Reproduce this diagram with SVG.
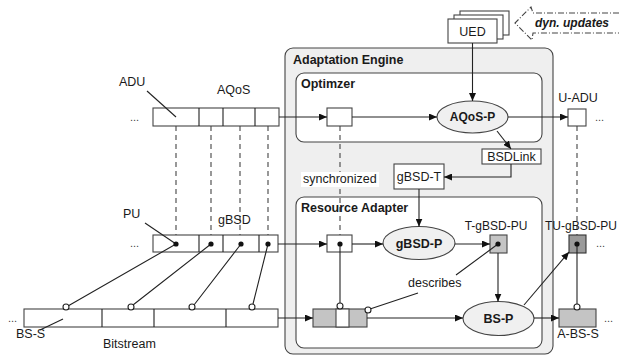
<svg xmlns="http://www.w3.org/2000/svg" width="619" height="356" viewBox="0 0 619 356">
  <style>
    text { font-family: "Liberation Sans", Arial, sans-serif; fill: #1a1a1a; }
    .lbl { font-size: 12.5px; }
    .sm { font-size: 12px; }
    .ttl { font-size: 12.5px; font-weight: bold; }
    .ell { font-size: 12.5px; font-weight: bold; text-anchor: middle; }
    .mid { text-anchor: middle; }
    .dots { font-size: 11px; fill: #444; }
    .box { fill: #fff; stroke: #444; stroke-width: 1.1; }
    .grey { fill: #c4c4c4; stroke: #444; stroke-width: 1.1; }
    .dark { fill: #9a9a9a; stroke: #333; stroke-width: 1.1; }
    .oval { fill: #f0f0f0; stroke: #444; stroke-width: 1.1; }
    .ln { fill: none; stroke: #222; stroke-width: 1.1; }
    .arr { fill: none; stroke: #222; stroke-width: 1.1; marker-end: url(#ah); }
    .dash { fill: none; stroke: #444; stroke-width: 1.1; stroke-dasharray: 5 4; }
    .dot { fill: #111; }
    .ring { fill: #fff; stroke: #222; stroke-width: 1.1; }
  </style>
  <defs>
    <marker id="ah" markerUnits="userSpaceOnUse" markerWidth="8" markerHeight="7" refX="8" refY="3.5" orient="auto">
      <path d="M0,0 L8,3.5 L0,7 z" fill="#111"/>
    </marker>
  </defs>

  <!-- containers -->
  <g id="adaptation-engine">
    <rect x="285" y="48" width="268" height="306" rx="8" fill="#efefef" stroke="#444" stroke-width="1.1"/>
    <text class="ttl" x="293" y="64">Adaptation Engine</text>
  </g>
  <g id="optimizer">
    <rect x="296" y="73" width="246" height="69" rx="8" fill="#fff" stroke="#444" stroke-width="1.1"/>
    <text class="ttl" x="301" y="88">Optimzer</text>
  </g>
  <g id="resource-adapter">
    <rect x="296" y="197" width="246" height="151" rx="8" fill="#fff" stroke="#444" stroke-width="1.1"/>
  </g>

  <!-- dashed synchronisation lines (drawn under the labels) -->
  <g id="sync-lines">
    <path class="dash" d="M176,126 V235 M211,126 V235 M240,126 V235 M268,126 V235"/>
    <path class="dash" d="M340,126 V235"/>
    <path class="dash" d="M577,126 V235"/>
  </g>

  <g id="synchronized-label">
    <rect x="301" y="172" width="78" height="15" fill="#fff"/>
    <text class="lbl" x="303" y="183">synchronized</text>
  </g>
  <text class="ttl" x="301" y="212">Resource Adapter</text>

  <!-- ADU / AQoS row -->
  <g id="adu-row">
    <rect class="box" x="153" y="108" width="126" height="18"/>
    <path class="ln" d="M199,108 V126 M223,108 V126 M255,108 V126"/>
    <text class="lbl" x="119" y="86">ADU</text>
    <text class="lbl" x="217" y="94">AQoS</text>
    <text class="dots" x="130" y="121">...</text>
  </g>

  <!-- PU / gBSD row -->
  <g id="gbsd-row">
    <rect class="box" x="153" y="235" width="125" height="17"/>
    <path class="ln" d="M199,235 V252 M223,235 V252 M259,235 V252"/>
    <text class="lbl" x="123" y="218">PU</text>
    <text class="lbl" x="218" y="224">gBSD</text>
    <text class="dots" x="130" y="247">...</text>
  </g>

  <!-- Bitstream row -->
  <g id="bitstream-row">
    <rect class="box" x="24" y="309" width="254" height="18"/>
    <path class="ln" d="M102,309 V327 M154,309 V327 M226,309 V327"/>
    <text class="lbl" x="16" y="338">BS-S</text>
    <text class="lbl" x="103" y="348">Bitstream</text>
    <text class="dots" x="8" y="322">...</text>
  </g>

  <!-- UED stack and dynamic updates -->
  <g id="ued">
    <rect class="box" x="460" y="11" width="49" height="24"/>
    <rect class="box" x="454" y="15" width="49" height="24"/>
    <rect class="box" x="448" y="19" width="49" height="24"/>
    <text class="lbl mid" x="472.5" y="36">UED</text>
  </g>
  <g id="dyn-updates">
    <path d="M619,13 H533 L531,7 L515,23 L532,40 L533,33 H619" fill="none" stroke="#444" stroke-width="1.1" stroke-dasharray="6 2 1 2"/>
    <text x="535" y="27" style="font-size:12px;font-weight:bold;font-style:italic">dyn. updates</text>
  </g>

  <!-- optimizer nodes -->
  <g id="opt-adu">
    <rect class="box" x="327" y="108" width="25" height="18"/>
  </g>
  <g id="aqos-p">
    <ellipse class="oval" cx="472.5" cy="117" rx="35.5" ry="16"/>
    <text class="ell" x="472.5" y="121" style="font-size:12px">AQoS-P</text>
  </g>
  <g id="u-adu">
    <rect class="box" x="568" y="109" width="18" height="17"/>
    <text class="lbl mid" x="578" y="102">U-ADU</text>
    <text class="dots" x="595" y="121">...</text>
  </g>
  <g id="bsdlink">
    <rect class="box" x="482" y="149" width="59" height="15"/>
    <text class="lbl mid" x="511.5" y="161">BSDLink</text>
  </g>
  <g id="gbsd-t">
    <rect class="box" x="394" y="164" width="50" height="25"/>
    <text class="lbl mid" x="419" y="181">gBSD-T</text>
  </g>

  <!-- resource adapter nodes -->
  <g id="ra-pu">
    <rect class="box" x="327" y="235" width="25" height="17"/>
  </g>
  <g id="gbsd-p">
    <ellipse class="oval" cx="419" cy="243" rx="36" ry="16.5"/>
    <text class="ell" x="419" y="247.5">gBSD-P</text>
  </g>
  <g id="t-gbsd-pu">
    <rect class="grey" x="490" y="235" width="17" height="18"/>
    <text class="sm mid" x="496" y="230">T-gBSD-PU</text>
  </g>
  <g id="ra-bs">
    <rect class="grey" x="313" y="309" width="54" height="18"/>
    <rect x="336" y="309" width="13" height="18" fill="#fff" stroke="#444" stroke-width="1.1"/>
  </g>
  <g id="bs-p">
    <ellipse class="oval" cx="498.5" cy="318.5" rx="35.5" ry="17"/>
    <text class="ell" x="498.5" y="323">BS-P</text>
  </g>
  <g id="tu-gbsd-pu">
    <rect class="dark" x="569" y="235" width="17" height="18"/>
    <text class="sm mid" x="581" y="230">TU-gBSD-PU</text>
    <text class="dots" x="596" y="247">...</text>
  </g>
  <g id="a-bs-s">
    <rect class="grey" x="559" y="309" width="37" height="18"/>
    <text class="lbl mid" x="578" y="338">A-BS-S</text>
    <text class="dots" x="604" y="322">...</text>
  </g>

  <!-- connectors -->
  <g id="connectors">
    <!-- label leaders -->
    <path class="ln" d="M147,91 L176,117"/>
    <path class="ln" d="M145,223 L176,244"/>
    <path class="ln" d="M40,330 L63,319"/>
    <!-- gBSD units to bitstream segments -->
    <path class="ln" d="M176,244 L68,306 M211,244 L133,305 M241,244 L194,305 M268,244 L253,304"/>
    <!-- data flow -->
    <path class="arr" d="M279,117 H327"/>
    <path class="arr" d="M352,117 H437"/>
    <path class="arr" d="M472.5,43 V101"/>
    <path class="arr" d="M508,117 H568"/>
    <path class="arr" d="M497,131 L511,149"/>
    <path class="arr" d="M511,164 V177 H444"/>
    <path class="arr" d="M419,189 V226.5"/>
    <path class="arr" d="M278,244 H327"/>
    <path class="arr" d="M352,244 H383"/>
    <path class="arr" d="M455,244 H490"/>
    <path class="arr" d="M498,253 V301.5"/>
    <path class="arr" d="M524,305 L569,252"/>
    <path class="arr" d="M278,318 H313"/>
    <path class="arr" d="M367,318 H463"/>
    <path class="arr" d="M534,318 H559"/>
    <!-- unit to segment links inside the engine -->
    <path class="ln" d="M340,244 V303"/>
    <path class="ln" d="M577,244 V304"/>
    <!-- describes -->
    <path class="ln" d="M370,309 L418,293 M456,275 L498,244"/>
    <text class="lbl" x="408" y="287">describes</text>
    <!-- unit markers -->
    <circle class="dot" cx="176" cy="244" r="2.6"/>
    <circle class="dot" cx="211" cy="244" r="2.6"/>
    <circle class="dot" cx="241" cy="244" r="2.6"/>
    <circle class="dot" cx="268" cy="244" r="2.6"/>
    <circle class="dot" cx="340" cy="244" r="2.6"/>
    <circle class="dot" cx="498" cy="244" r="2.6"/>
    <circle class="dot" cx="577" cy="244" r="2.6"/>
    <circle class="ring" cx="66" cy="307" r="3"/>
    <circle class="ring" cx="131" cy="307" r="3"/>
    <circle class="ring" cx="192" cy="307" r="3"/>
    <circle class="ring" cx="252" cy="307" r="3"/>
    <circle class="ring" cx="340" cy="306" r="3"/>
    <circle class="ring" cx="368" cy="310" r="3"/>
    <circle class="ring" cx="577" cy="307" r="3"/>
  </g>
</svg>
